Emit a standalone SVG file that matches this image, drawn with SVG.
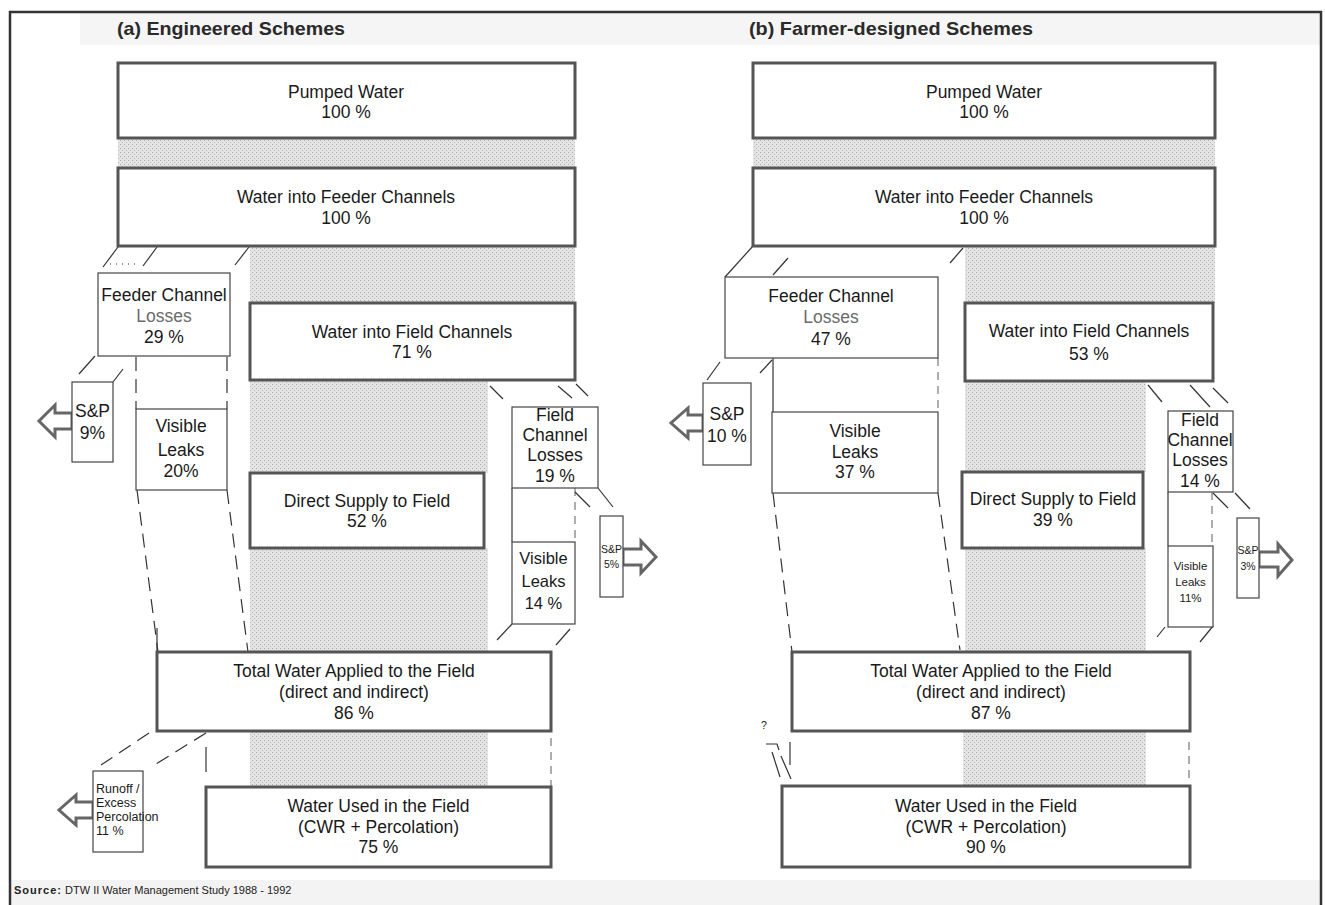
<svg xmlns="http://www.w3.org/2000/svg" width="1325" height="905" viewBox="0 0 1325 905">
<defs>
<pattern id="stip" width="4" height="4" patternUnits="userSpaceOnUse">
<rect width="4" height="4" fill="#e4e4e4"/>
<rect x="0" y="0" width="1" height="1" fill="#a8a8a8"/>
<rect x="2" y="2" width="1" height="1" fill="#b8b8b8"/>
</pattern>
</defs>
<style>
.box{fill:#fff;stroke:#555;stroke-width:3}
.sbox{fill:#fff;stroke:#444;stroke-width:1.2}
.sh{fill:url(#stip)}
.t{font-family:"Liberation Sans",Arial,sans-serif;font-size:17.5px;fill:#1a1a1a;text-anchor:middle}
.tm{font-size:16.5px}
.ts{font-size:11.5px}
.tx{font-size:10.5px}
.tr{font-size:12.5px;text-anchor:start}
.g{fill:#6a6a6a}
.ttl{font-family:"Liberation Sans",Arial,sans-serif;font-size:19px;font-weight:bold;fill:#2a2a2a}
.src{font-family:"Liberation Sans",Arial,sans-serif;font-size:11px;fill:#222}
.ln{stroke:#333;stroke-width:1.2;fill:none}
.dash{stroke-dasharray:14 8}
.sdash{stroke-dasharray:8 6;stroke:#777}
.arr{fill:#fff;stroke:#666;stroke-width:3;stroke-linejoin:miter}
.frame{stroke:#333;stroke-width:2.5;fill:none}
</style>

<g id="background">
<rect x="0" y="0" width="1325" height="905" fill="#fff"/>
<rect x="80" y="13" width="1240" height="32" fill="#f5f5f5"/>
<rect x="11" y="880" width="1309" height="25" fill="#f3f3f3"/>
<path class="frame" d="M10,905 L10,12 L1321,12 L1321,905"/>
</g>

<g id="titles">
<text class="ttl" x="117" y="35" textLength="228" lengthAdjust="spacingAndGlyphs">(a) Engineered Schemes</text>
<text class="ttl" x="749" y="35" textLength="284" lengthAdjust="spacingAndGlyphs">(b) Farmer-designed Schemes</text>
</g>

<g id="shading">
<rect class="sh" x="118" y="138" width="457" height="30"/>
<rect class="sh" x="250" y="246" width="325" height="57"/>
<rect class="sh" x="250" y="380" width="238" height="93"/>
<rect class="sh" x="250" y="548" width="238" height="104"/>
<rect class="sh" x="250" y="731" width="238" height="56"/>
<rect class="sh" x="753" y="138" width="462" height="30"/>
<rect class="sh" x="965" y="246" width="250" height="57"/>
<rect class="sh" x="965" y="381" width="181" height="91"/>
<rect class="sh" x="965" y="548" width="181" height="104"/>
<rect class="sh" x="963" y="731" width="183" height="55"/>
</g>

<g id="connectors">
<line class="ln" x1="118" y1="247" x2="103" y2="267"/>
<line class="ln" x1="157" y1="247" x2="143" y2="266"/>
<line class="ln" x1="249" y1="247" x2="235" y2="265"/>
<line class="ln" x1="110" y1="264" x2="140" y2="264" stroke-dasharray="1 5"/>
<line class="ln" x1="95" y1="356" x2="79" y2="374"/>
<line class="ln" x1="123" y1="369" x2="113" y2="382"/>
<line class="ln dash" x1="136" y1="357" x2="136" y2="409"/>
<line class="ln dash" x1="227" y1="357" x2="227" y2="409"/>
<line class="ln dash" x1="137" y1="490" x2="158" y2="652"/>
<line class="ln dash" x1="227" y1="490" x2="248" y2="652"/>
<line class="ln" x1="157" y1="628" x2="157" y2="652"/>
<line class="ln" x1="490" y1="386" x2="503" y2="399"/>
<line class="ln" x1="558" y1="386" x2="572" y2="398"/>
<line class="ln" x1="576" y1="384" x2="588" y2="396"/>
<line class="ln" x1="512" y1="488" x2="512" y2="542"/>
<line class="ln sdash" x1="575" y1="488" x2="575" y2="542"/>
<line class="ln" x1="575" y1="492" x2="590" y2="507"/>
<line class="ln" x1="598" y1="488" x2="613" y2="507"/>
<line class="ln" x1="512" y1="624" x2="497" y2="640"/>
<line class="ln" x1="570" y1="629" x2="556" y2="645"/>
<line class="ln dash" x1="149" y1="733" x2="101" y2="765"/>
<line class="ln dash" x1="206" y1="733" x2="156" y2="764"/>
<line class="ln" x1="206" y1="747" x2="206" y2="772"/>
<line class="ln sdash" x1="551" y1="738" x2="551" y2="787"/>
<line class="ln" x1="753" y1="246" x2="725" y2="277"/>
<line class="ln" x1="788" y1="258" x2="773" y2="275"/>
<line class="ln" x1="963" y1="248" x2="950" y2="263"/>
<line class="ln" x1="720" y1="362" x2="707" y2="380"/>
<line class="ln" x1="772" y1="360" x2="760" y2="373"/>
<line class="ln" x1="773" y1="358" x2="773" y2="412"/>
<line class="ln sdash" x1="938" y1="358" x2="938" y2="412"/>
<line class="ln dash" x1="773" y1="493" x2="792" y2="652"/>
<line class="ln dash" x1="938" y1="493" x2="960" y2="650"/>
<line class="ln" x1="1148" y1="385" x2="1162" y2="402"/>
<line class="ln" x1="1190" y1="385" x2="1210" y2="407"/>
<line class="ln" x1="1213" y1="388" x2="1228" y2="403"/>
<line class="ln" x1="1168" y1="492" x2="1168" y2="546"/>
<line class="ln sdash" x1="1212" y1="492" x2="1212" y2="546"/>
<line class="ln" x1="1213" y1="493" x2="1228" y2="508"/>
<line class="ln" x1="1235" y1="493" x2="1250" y2="509"/>
<line class="ln" x1="1165" y1="627" x2="1157" y2="637"/>
<line class="ln" x1="1213" y1="626" x2="1200" y2="642"/>
<path class="ln" d="M766,744 L777,744 L779,750"/>
<line class="ln" x1="772" y1="752" x2="780" y2="777"/>
<line class="ln" x1="781" y1="756" x2="791" y2="779"/>
<line class="ln" x1="790" y1="742" x2="790" y2="765"/>
<line class="ln sdash" x1="1189" y1="742" x2="1189" y2="778"/>
</g>

<g id="arrows">
<polygon class="arr" points="72,413 55,413 55,405 39,421 55,437 55,429 72,429"/>
<polygon class="arr" points="93,802 76,802 76,795 59,810 76,825 76,818 93,818"/>
<polygon class="arr" points="623,549 641,549 641,541 656,557 641,573 641,565 623,565"/>
<polygon class="arr" points="703,415 688,415 688,408 671,423 688,438 688,431 703,431"/>
<polygon class="arr" points="1259,552 1278,552 1278,544 1292,560 1278,576 1278,567 1259,567"/>
</g>

<g id="a-pumped"><rect class="box" x="118" y="63" width="457" height="75"/>
<text class="t" x="346" y="98">Pumped Water</text><text class="t" x="346" y="118">100 %</text></g>
<g id="a-feeder"><rect class="box" x="118" y="168" width="457" height="78"/>
<text class="t" x="346" y="203">Water into Feeder Channels</text><text class="t" x="346" y="224">100 %</text></g>
<g id="a-feeder-losses"><rect class="sbox" x="98" y="273" width="132" height="83"/>
<text class="t" x="164" y="301">Feeder Channel</text><text class="t g" x="164" y="322">Losses</text><text class="t" x="164" y="343">29 %</text></g>
<g id="a-field"><rect class="box" x="250" y="303" width="325" height="77"/>
<text class="t" x="412" y="338">Water into Field Channels</text><text class="t" x="412" y="358">71 %</text></g>
<g id="a-sp9"><rect class="sbox" x="72" y="382" width="41" height="80"/>
<text class="t" x="92.5" y="417">S&amp;P</text><text class="t" x="92.5" y="439">9%</text></g>
<g id="a-visible"><rect class="sbox" x="136" y="409" width="91" height="81"/>
<text class="t" x="181" y="432">Visible</text><text class="t" x="181" y="456">Leaks</text><text class="t" x="181" y="477">20%</text></g>
<g id="a-direct"><rect class="box" x="250" y="473" width="234" height="75"/>
<text class="t" x="367" y="507">Direct Supply to Field</text><text class="t" x="367" y="527">52 %</text></g>
<g id="a-field-losses"><rect class="sbox" x="512" y="407" width="86" height="81"/>
<text class="t" x="555" y="421">Field</text><text class="t" x="555" y="441">Channel</text><text class="t" x="555" y="461">Losses</text><text class="t" x="555" y="482">19 %</text></g>
<g id="a-visible2"><rect class="sbox" x="512" y="542" width="63" height="82"/>
<text class="t tm" x="543.5" y="564">Visible</text><text class="t tm" x="543.5" y="587">Leaks</text><text class="t tm" x="543.5" y="609">14 %</text></g>
<g id="a-sp5"><rect class="sbox" x="600" y="516" width="23" height="81"/>
<text class="t tx" x="611.5" y="553">S&amp;P</text><text class="t tx" x="611.5" y="568">5%</text></g>
<g id="a-total"><rect class="box" x="157" y="652" width="394" height="79"/>
<text class="t" x="354" y="677">Total Water Applied to the Field</text><text class="t" x="354" y="698">(direct and indirect)</text><text class="t" x="354" y="719">86 %</text></g>
<g id="a-runoff"><rect class="sbox" x="93" y="771" width="50" height="81"/>
<text class="t tr" x="96" y="793">Runoff /</text><text class="t tr" x="96" y="807">Excess</text><text class="t tr" x="96" y="821">Percolation</text><text class="t tr" x="96" y="835">11 %</text></g>
<g id="a-used"><rect class="box" x="206" y="787" width="345" height="80"/>
<text class="t" x="378.5" y="812">Water Used in the Field</text><text class="t" x="378.5" y="833">(CWR + Percolation)</text><text class="t" x="378.5" y="853">75 %</text></g>

<g id="b-pumped"><rect class="box" x="753" y="63" width="462" height="75"/>
<text class="t" x="984" y="98">Pumped Water</text><text class="t" x="984" y="118">100 %</text></g>
<g id="b-feeder"><rect class="box" x="753" y="168" width="462" height="78"/>
<text class="t" x="984" y="203">Water into Feeder Channels</text><text class="t" x="984" y="224">100 %</text></g>
<g id="b-feeder-losses"><rect class="sbox" x="725" y="277" width="213" height="81"/>
<text class="t" x="831" y="302">Feeder Channel</text><text class="t g" x="831" y="323">Losses</text><text class="t" x="831" y="345">47 %</text></g>
<g id="b-field"><rect class="box" x="965" y="303" width="248" height="78"/>
<text class="t" x="1089" y="337">Water into Field Channels</text><text class="t" x="1089" y="360">53 %</text></g>
<g id="b-sp10"><rect class="sbox" x="703" y="383" width="48" height="82"/>
<text class="t" x="727" y="420">S&amp;P</text><text class="t" x="727" y="442">10 %</text></g>
<g id="b-visible"><rect class="sbox" x="772" y="412" width="166" height="81"/>
<text class="t" x="855" y="437">Visible</text><text class="t" x="855" y="458">Leaks</text><text class="t" x="855" y="478">37 %</text></g>
<g id="b-direct"><rect class="box" x="962" y="472" width="181" height="76"/>
<text class="t" x="1053" y="505">Direct Supply to Field</text><text class="t" x="1053" y="526">39 %</text></g>
<g id="b-field-losses"><rect class="sbox" x="1168" y="411" width="65" height="81"/>
<text class="t" x="1200" y="426">Field</text><text class="t" x="1200" y="446">Channel</text><text class="t" x="1200" y="466">Losses</text><text class="t" x="1200" y="487">14 %</text></g>
<g id="b-visible2"><rect class="sbox" x="1168" y="546" width="45" height="81"/>
<text class="t ts" x="1190.5" y="570">Visible</text><text class="t ts" x="1190.5" y="586">Leaks</text><text class="t ts" x="1190.5" y="602">11%</text></g>
<g id="b-sp3"><rect class="sbox" x="1237" y="518" width="22" height="80"/>
<text class="t tx" x="1248" y="554">S&amp;P</text><text class="t tx" x="1248" y="570">3%</text></g>
<g id="b-total"><rect class="box" x="792" y="652" width="398" height="79"/>
<text class="t" x="991" y="677">Total Water Applied to the Field</text><text class="t" x="991" y="698">(direct and indirect)</text><text class="t" x="991" y="719">87 %</text></g>
<g id="b-used"><rect class="box" x="782" y="786" width="408" height="81"/>
<text class="t" x="986" y="812">Water Used in the Field</text><text class="t" x="986" y="833">(CWR + Percolation)</text><text class="t" x="986" y="853">90 %</text></g>
<g id="b-question"><text class="t tx" x="764" y="729">?</text></g>

<g id="source">
<text class="src" x="14" y="894"><tspan font-weight="bold" letter-spacing="1">Source:</tspan> DTW II Water Management Study 1988 - 1992</text>
</g>
</svg>
